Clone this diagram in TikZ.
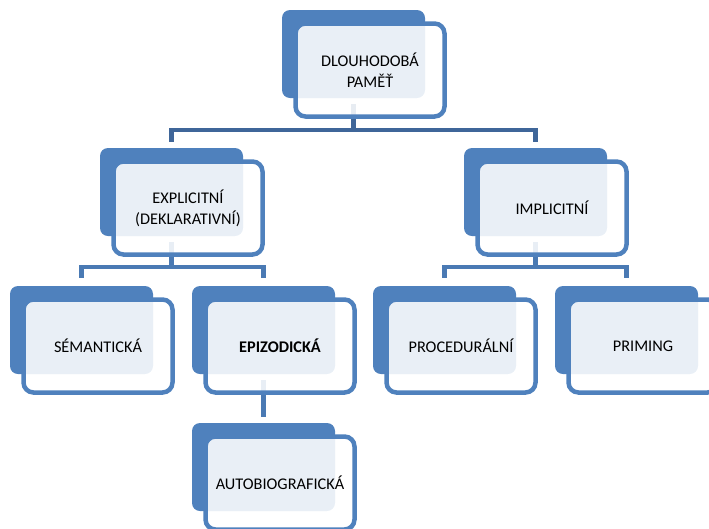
\documentclass[tikz,border=0pt]{standalone}
\usepackage{fontspec}
\setmainfont{Carlito}
\usetikzlibrary{positioning}

\definecolor{boxblue}{HTML}{4F81BD}
\definecolor{topline}{HTML}{3F6699}
\definecolor{subline}{HTML}{4A7AB4}

\begin{document}
\begin{tikzpicture}[x=1pt,y=1pt,
  back/.style={rectangle,rounded corners=8pt,fill=boxblue,minimum width=143pt,minimum height=88pt,outer sep=0pt,anchor=north west},
  front/.style={rectangle,rounded corners=10pt,draw=boxblue,line width=4.5pt,fill=white,fill opacity=.88,text opacity=1,
    minimum width=149pt,minimum height=93pt,outer sep=0pt,anchor=north west,align=center,
    font=\fontsize{16.3}{21}\selectfont},
  conntop/.style={draw=topline,line width=4.5pt},
  connsub/.style={draw=subline,line width=4.5pt}]
\useasboundingbox (0,0) rectangle (709,-528);

% blue boxes behind
\foreach \n/\x/\y in {pamet/282/10, expl/100/148, impl/464/148, sem/10/286,
                      epi/192/286, proc/373/286, prim/555/286, auto/192/423}
  \node[back] (\n) at (\x,-\y) {};

% connectors
\draw[conntop] ([yshift=-6pt]pamet.south) -- ++(0,-26) -| ([yshift=6pt]expl.north);
\draw[conntop] ([yshift=-6pt]pamet.south) -- ++(0,-26) -| ([yshift=6pt]impl.north);
\draw[connsub] ([yshift=-6pt]expl.south) -- ++(0,-25) -| ([yshift=8pt]sem.north);
\draw[connsub] ([yshift=-6pt]expl.south) -- ++(0,-25) -| ([yshift=8pt]epi.north);
\draw[connsub] ([yshift=-6pt]impl.south) -- ++(0,-25) -| ([yshift=8pt]proc.north);
\draw[connsub] ([yshift=-6pt]impl.south) -- ++(0,-25) -| ([yshift=8pt]prim.north);
\draw[connsub] ([yshift=-6pt]epi.south) -- ([yshift=6pt]auto.north);

% light boxes with the text
\foreach \n/\t in {pamet/{DLOUHODOBÁ\\PAMĚŤ}, expl/{EXPLICITNÍ\\(DEKLARATIVNÍ)},
                   impl/IMPLICITNÍ, sem/SÉMANTICKÁ, epi/{\bfseries EPIZODICKÁ},
                   proc/PROCEDURÁLNÍ, prim/PRIMING, auto/AUTOBIOGRAFICKÁ}
  \node[front] (\n-f) at ([shift={(13.5,-13.5)}]\n.north west) {\t};

\end{tikzpicture}
\end{document}
